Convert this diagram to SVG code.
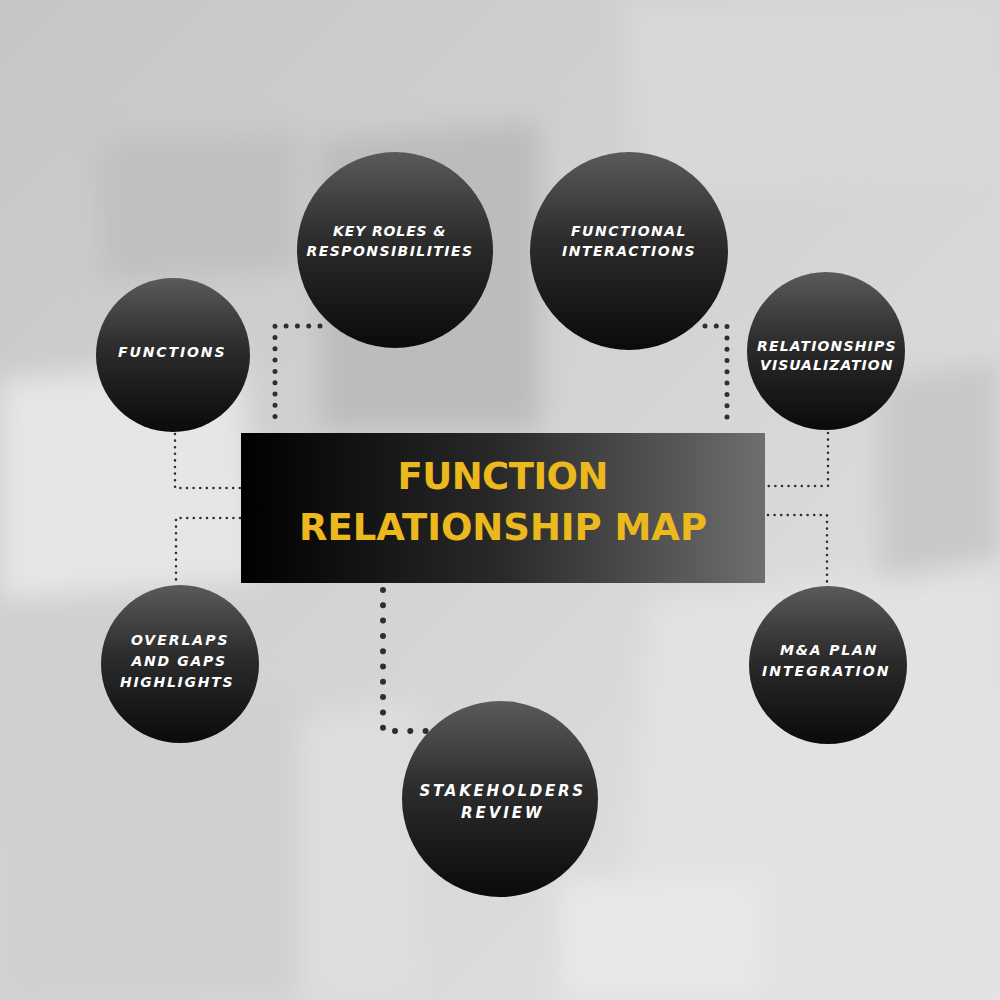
<svg xmlns="http://www.w3.org/2000/svg" width="1000" height="1000" viewBox="0 0 1000 1000">
<defs>
<linearGradient id="bg" x1="0" y1="0" x2="1" y2="1">
<stop offset="0" stop-color="#c6c6c6"/>
<stop offset="0.5" stop-color="#d4d4d4"/>
<stop offset="1" stop-color="#e4e4e4"/>
</linearGradient>
<linearGradient id="circ" x1="0" y1="0" x2="0" y2="1">
<stop offset="0" stop-color="#5a5a5a"/>
<stop offset="0.45" stop-color="#2c2c2c"/>
<stop offset="1" stop-color="#0a0a0a"/>
</linearGradient>
<linearGradient id="rect" x1="0" y1="0" x2="1" y2="0">
<stop offset="0" stop-color="#000000"/>
<stop offset="0.5" stop-color="#2a2a2a"/>
<stop offset="1" stop-color="#6e6e6e"/>
</linearGradient>
<filter id="blur" x="-20%" y="-20%" width="140%" height="140%"><feGaussianBlur stdDeviation="14"/></filter>
</defs>
<style>
.node{fill:url(#circ)}
.lbl{fill:#ffffff;font-family:"DejaVu Sans",sans-serif;font-weight:bold;font-style:italic;font-size:14px;text-anchor:middle;letter-spacing:1.5px}
.title{fill:#ebb91e;font-family:"DejaVu Sans",sans-serif;font-weight:bold;font-size:37px;text-anchor:middle}
.big{fill:none;stroke:#2f2f2f;stroke-width:5;stroke-linecap:round;stroke-dasharray:0 11.3}
.bigb{fill:none;stroke:#2f2f2f;stroke-width:6;stroke-linecap:round;stroke-dasharray:0 15.3}
.small{fill:none;stroke:#2f2f2f;stroke-width:2.6;stroke-linecap:round;stroke-dasharray:0 6.6}
</style>
<g id="background">
<rect width="1000" height="1000" fill="url(#bg)"/>
<g filter="url(#blur)">
<polygon points="0,380 240,360 260,580 0,600" fill="#e6e6e6"/>
<polygon points="320,140 540,120 540,430 320,430" fill="#bcbcbc"/>
<polygon points="100,140 300,130 300,270 100,280" fill="#c0c0c0"/>
<polygon points="620,0 1000,0 1000,180 640,200" fill="#d8d8d8"/>
<polygon points="0,640 300,700 300,1000 0,1000" fill="#d0d0d0"/>
<polygon points="650,600 1000,560 1000,1000 620,1000" fill="#e2e2e2"/>
<polygon points="880,380 1000,360 1000,560 880,580" fill="#c8c8c8"/>
<polygon points="300,720 420,700 420,1000 300,1000" fill="#dedede"/>
<polygon points="560,880 760,880 760,1000 560,1000" fill="#e8e8e8"/>
</g>
</g>
<g id="connectors">
<path class="big" d="M320,326 H275 V425"/>
<path class="big" d="M705,326 H727 V425"/>
<path class="bigb" d="M383,590 V731 H432"/>
<path class="small" d="M175,434 V488 H240"/>
<path class="small" d="M828,433 V486 H766"/>
<path class="small" d="M240,518 H176 V584"/>
<path class="small" d="M768,515 H827 V586"/>
</g>
<g id="center">
<rect x="241" y="433" width="524" height="150" fill="url(#rect)"/>
<text class="title" x="503" y="489" textLength="211">FUNCTION</text>
<text class="title" x="503" y="540" textLength="408">RELATIONSHIP MAP</text>
</g>
<g id="n-functions">
<circle class="node" cx="173" cy="355" r="77"/>
<text class="lbl" x="172" y="357" textLength="108">FUNCTIONS</text>
</g>
<g id="n-keyroles">
<circle class="node" cx="395" cy="250" r="98"/>
<text class="lbl" x="390" y="236" textLength="114">KEY ROLES &amp;</text>
<text class="lbl" x="390" y="256" textLength="167">RESPONSIBILITIES</text>
</g>
<g id="n-functional">
<circle class="node" cx="629" cy="251" r="99"/>
<text class="lbl" x="629" y="236" textLength="116">FUNCTIONAL</text>
<text class="lbl" x="629" y="256" textLength="134">INTERACTIONS</text>
</g>
<g id="n-relationships">
<circle class="node" cx="826" cy="351" r="79"/>
<text class="lbl" x="827" y="351" textLength="140">RELATIONSHIPS</text>
<text class="lbl" x="827" y="370" textLength="134">VISUALIZATION</text>
</g>
<g id="n-overlaps">
<circle class="node" cx="180" cy="664" r="79"/>
<text class="lbl" x="180" y="645" textLength="98">OVERLAPS</text>
<text class="lbl" x="179" y="666" textLength="95">AND GAPS</text>
<text class="lbl" x="177" y="687" textLength="114">HIGHLIGHTS</text>
</g>
<g id="n-ma">
<circle class="node" cx="828" cy="665" r="79"/>
<text class="lbl" x="829" y="655" textLength="98">M&amp;A PLAN</text>
<text class="lbl" x="826" y="676" textLength="128">INTEGRATION</text>
</g>
<g id="n-stakeholders">
<circle class="node" cx="500" cy="799" r="98"/>
<text class="lbl" x="502" y="796" textLength="165" style="font-size:15px">STAKEHOLDERS</text>
<text class="lbl" x="502" y="818" textLength="82" style="font-size:15px">REVIEW</text>
</g>
</svg>
